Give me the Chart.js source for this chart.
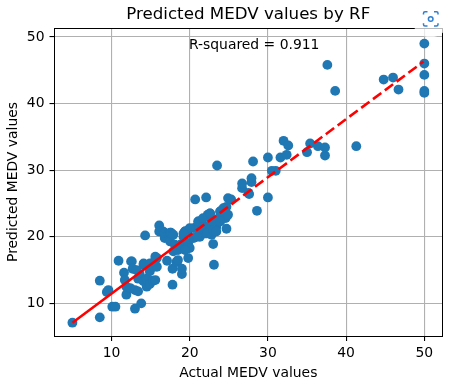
<!DOCTYPE html>
<html>
<head>
<meta charset="utf-8">
<script src="https://cdn.jsdelivr.net/npm/chart.js@4"></script>
<style>
    body { margin: 0; background: #fff; }
    #wrap { position: relative; width: 450px; height: 386px; }
    #shot { position: absolute; left: 411px; top: 0; }
</style>
</head>
<body>
<div id="wrap">
    <canvas id="myChart" width="450" height="386"></canvas>
    <svg id="shot" width="39" height="38" viewBox="0 0 39 38">
        <circle cx="19.5" cy="19" r="18.5" fill="#fff" fill-opacity="0.72"/>
        <g fill="none" stroke="#2f7fd1" stroke-width="1.5">
            <path d="M12.5 14.500V13.200a1.500 1.500 0 0 1 1.500-1.500h2.500M23 11.700h2.500a1.500 1.500 0 0 1 1.500 1.500v1.300"/>
            <path d="M12.500 23.200v1.300a1.500 1.500 0 0 0 1.500 1.500h2.500M23 26h2.500a1.500 1.500 0 0 0 1.500-1.500v-1.300"/>
            <circle cx="19.700" cy="19" r="2.300"/>
        </g>
    </svg>
</div>
<script>
const actual = [
    5, 8.5, 8.5, 9.4, 9.6, 10.1, 10.5, 10.9, 11.6, 11.7, 11.9, 11.9, 12.4, 12.5, 12.6, 12.7, 13, 13, 13.4, 13.4,
    13.6, 13.8, 14.1, 14.1, 14.1, 14.3, 14.3, 14.5, 14.5, 14.9, 14.9, 14.9, 15.3, 15.4, 15.6, 15.6, 15.8, 15.8, 16.1, 16.1,
    16.2, 16.6, 16.8, 16.8, 17.1, 17.3, 17.5, 17.5, 17.6, 17.8, 17.8, 17.9, 17.9, 18.1, 18.3, 18.4, 18.5, 18.5, 18.8, 19,
    19, 19.2, 19.4, 19.4, 19.8, 19.8, 19.8, 20, 20.5, 20.5, 20.7, 20.9, 21.1, 21.3, 21.5, 22, 22.1, 22.2, 22.3, 22.6,
    22.8, 22.8, 23, 23.1, 23.4, 23.5, 23.7, 23.9, 24.3, 24.6, 24.7, 24.7, 24.9, 25.3, 26.7, 26.7, 27.5, 27.6, 27.9, 27.9,
    28.1, 28.6, 30, 30, 30.5, 31, 31.6, 32, 32.4, 32.6, 35, 35.4, 36.4, 37.3, 37.3, 37.6, 38.6, 41.3, 44.8, 46,
    46.7, 50, 50, 50, 50, 50,
    19.4, 20, 20.9, 21.1, 21.7, 21.7, 22.2, 22.6, 22.6, 23, 23, 23.4, 23.9, 23.9, 24.3, 24.9, 19.2, 19.4, 13.2, 15.6
];
const predicted = [
    7.1, 7.9, 13.4, 11.7, 12, 9.5, 9.5, 16.4, 14.6, 13.5, 11.3, 12.5, 12.3, 16.3, 16.3, 15.2, 9.2, 12, 11.8, 13.7,
    14.4, 10, 13.3, 15.8, 16, 15.8, 20.2, 12.5, 13.7, 12.9, 14.8, 16, 13.4, 15.5, 13.5, 16.5, 15.5, 16.8, 21.7, 20.8,
    20.8, 20.8, 19.8, 20.6, 16.4, 20.4, 19.3, 20.6, 20.6, 12.8, 15.2, 17.8, 20.3, 18.8, 16.2, 16.3, 16.5, 18, 18.8, 14.4,
    15.2, 20, 19.3, 20.8, 16.8, 19, 21, 18.3, 19.8, 21.3, 25.6, 21.5, 22.3, 20, 20.8, 20.5, 25.9, 21.5, 23.3, 23.5,
    20.3, 22.3, 18.9, 15.8, 21.5, 30.7, 22.8, 23.8, 24, 22.8, 21.2, 24.5, 25.8, 25.6, 27.3, 28, 26.6, 26.4, 28.2, 28.8,
    31.3, 23.9, 25.9, 31.9, 29.9, 29.9, 31.9, 34.4, 32.3, 33.7, 32.7, 34, 33.6, 32.2, 33.4, 45.8, 41.9, 33.6, 43.6, 43.9,
    42.1, 41.6, 41.9, 44.3, 46, 49,
    20.8, 21.3, 20, 22.3, 21.5, 22.8, 20.5, 23.5, 21.8, 22.3, 21, 20.8, 23.8, 22.3, 24.3, 23.3, 20.5, 18, 15, 17
];
const fitSolidX = [5, 19.3];
const fitSolidY = [7.1, 19.6];
const fitDashX = [19.3, 49.9];
const fitDashY = [19.6, 46.3];
const xTicks = [10, 20, 30, 40, 50];
const yTicks = [10, 20, 30, 40, 50];
const rSquared = "R-squared = 0.911";

const FONT = "'DejaVu Sans'";
const BLUE = "#1f77b4";

function pairs(xs, ys) {
    return xs.map(function (x, i) {
        return { x: x, y: ys[i] };
    });
}

function fixedTicks(values) {
    return function (scale) {
        scale.ticks = values.map(function (v) {
            return { value: v };
        });
    };
}

// top and right spines, and the r-squared note
const frame = {
    id: "frame",
    afterDraw: function (chart) {
        const c = chart.ctx;
        const a = chart.chartArea;
        c.save();
        c.strokeStyle = "#000";
        c.lineWidth = 1;
        c.strokeRect(Math.floor(a.left) + 0.5, Math.floor(a.top) + 0.5, Math.round(a.right - a.left), Math.round(a.bottom - a.top));
        c.fillStyle = "#000";
        c.font = "13.9px " + FONT;
        c.textBaseline = "alphabetic";
        c.fillText(rSquared, chart.scales.x.getPixelForValue(19.9), chart.scales.y.getPixelForValue(48.2));
        c.restore();
    },
};

const ctx = document.getElementById("myChart").getContext("2d");
new Chart(ctx, {
    type: "scatter",
    plugins: [frame],
    data: {
        datasets: [
            {
                type: "line",
                data: pairs(fitSolidX, fitSolidY),
                borderColor: "#ff0000",
                borderWidth: 2.6,
                pointRadius: 0,
                order: 1,
            },
            {
                type: "line",
                data: pairs(fitDashX, fitDashY),
                borderColor: "#ff0000",
                borderWidth: 2.6,
                borderDash: [10.3, 4.4],
                pointRadius: 0,
                order: 1,
            },
            {
                data: pairs(actual, predicted),
                backgroundColor: BLUE,
                borderColor: BLUE,
                borderWidth: 0,
                pointRadius: 4.9,
                order: 2,
            },
        ],
    },
    options: {
        responsive: false,
        animation: false,
        layout: { padding: { left: 0, right: 8, top: 0, bottom: 0 } },
        plugins: {
            legend: { display: false },
            tooltip: { enabled: false },
            title: {
                display: true,
                text: "Predicted MEDV values by RF",
                color: "#000",
                fullSize: false,
                font: { family: FONT, size: 16.67, weight: "normal" },
                padding: { top: 5, bottom: 3 },
            },
        },
        scales: {
            x: {
                type: "linear",
                min: 2.71,
                max: 52.26,
                afterBuildTicks: fixedTicks(xTicks),
                afterFit: function (scale) {
                    scale.height = 50;
                },
                grid: { color: "#b0b0b0", lineWidth: 1.1, tickColor: "#000", tickLength: 5 },
                border: { color: "#000", width: 1 },
                ticks: { color: "#000", font: { family: FONT, size: 13.9 }, padding: 4, maxRotation: 0 },
                title: {
                    display: true,
                    text: "Actual MEDV values",
                    color: "#000",
                    font: { family: FONT, size: 13.9 },
                    padding: { top: 4, bottom: 4 },
                },
            },
            y: {
                type: "linear",
                min: 5.1,
                max: 51.34,
                afterBuildTicks: fixedTicks(yTicks),
                afterFit: function (scale) {
                    scale.width = 54.5;
                },
                grid: { color: "#b0b0b0", lineWidth: 1.1, tickColor: "#000", tickLength: 5 },
                border: { color: "#000", width: 1 },
                ticks: { color: "#000", font: { family: FONT, size: 13.9 }, padding: 5 },
                title: {
                    display: true,
                    text: "Predicted MEDV values",
                    color: "#000",
                    font: { family: FONT, size: 13.9 },
                    padding: { top: 5, bottom: 3 },
                },
            },
        },
    },
});
</script>
</body>
</html>
